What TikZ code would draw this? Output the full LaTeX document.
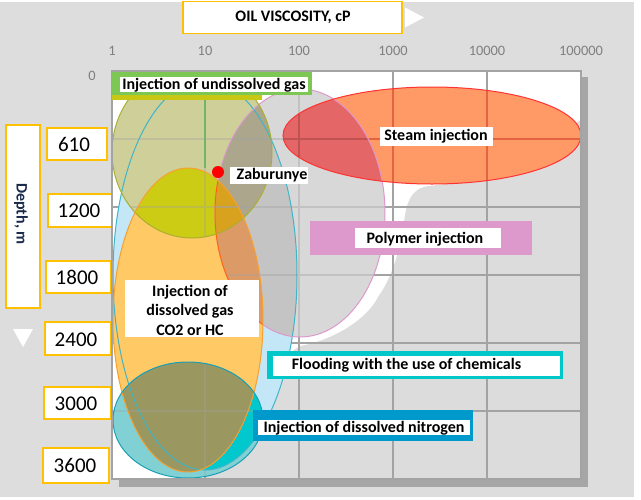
\documentclass[tikz,border=0pt]{standalone}
\usepackage{fontspec}
\setmainfont{Carlito}
\definecolor{bggrey}{HTML}{DDDDDD}
\definecolor{ggrey}{HTML}{DCDCDC}
\definecolor{shadowgrey}{HTML}{A6A6A6}
\definecolor{gridgrey}{HTML}{A3A3A3}
\definecolor{tickgrey}{HTML}{7F7F7F}
\definecolor{boxyellow}{HTML}{FFC000}
\definecolor{depthblue}{HTML}{1B2A4A}
\definecolor{cB}{HTML}{C3E7F7}
\definecolor{cP}{HTML}{D8D8D8}
\definecolor{cPB}{HTML}{C4C4C4}
\definecolor{cS}{HTML}{FF9966}
\definecolor{cSP}{HTML}{E46666}
\definecolor{cO}{HTML}{CFCF9A}
\definecolor{cOP}{HTML}{ACA68C}
\definecolor{cR}{HTML}{FFC966}
\definecolor{cRP}{HTML}{DC9A66}
\definecolor{cRO}{HTML}{CCCC14}
\definecolor{cROP}{HTML}{D9A21E}
\definecolor{cT}{HTML}{80D0D4}
\definecolor{cTB}{HTML}{00C8CC}
\definecolor{cTR}{HTML}{9A9860}
\definecolor{bBc}{HTML}{3FB5C8}
\definecolor{bPc}{HTML}{DD99CC}
\definecolor{bSc}{HTML}{FF3333}
\definecolor{bOc}{HTML}{A9B030}
\definecolor{bRc}{HTML}{F5A030}
\definecolor{bTc}{HTML}{1AA0B5}
\definecolor{greenbox}{HTML}{7DC754}
\definecolor{olivestrip}{HTML}{C8C814}
\definecolor{pinkbox}{HTML}{DD99CC}
\definecolor{cyanbox}{HTML}{00C8C8}
\definecolor{bluebox}{HTML}{0099CC}
\definecolor{gridgreen}{HTML}{3CB043}
\tikzset{
  lbl/.style={font=\fontsize{16}{19}\selectfont\bfseries, text=black, inner sep=0pt},
  num/.style={font=\fontsize{21}{24}\selectfont, text=black, inner sep=0pt},
  tick/.style={font=\fontsize{14.4}{16}\selectfont, text=tickgrey, inner sep=0pt},
  ybox/.style={draw=boxyellow, line width=1.5pt, fill=white},
  gridline/.style={draw=gridgrey, line width=1.5pt},
  shapeborder/.style={line width=1pt},
}
\def\shB{(205,275) ellipse [x radius=92pt, y radius=195pt]}
\def\shP{(300,213) ellipse [x radius=85pt, y radius=124pt]}
\def\shS{(432,135.5) ellipse [x radius=149pt, y radius=48.5pt]}
\def\shO{(192,152) ellipse [x radius=80pt, y radius=86pt]}
\def\shR{(188,320) ellipse [x radius=75pt, y radius=152pt]}
\def\shT{(188,420) ellipse [x radius=75pt, y radius=58pt]}
\def\gridpath{(205,71) -- (205,479) (299,71) -- (299,479) (393,71) -- (393,479) (487,71) -- (487,479)
  (112,139) -- (581,139) (112,207) -- (581,207) (112,275) -- (581,275) (112,343) -- (581,343) (112,411) -- (581,411)}
\begin{document}
\begin{tikzpicture}[x=1pt,y=-1pt]
\path[use as bounding box] (0,0) rectangle (641,499);
\fill[white] (0,0) rectangle (641,499);
\fill[bggrey] (0,2) rectangle (634,497);

% title
\draw[ybox] (183,1.5) rectangle (402,33.5);
\node[lbl] (title) at (293,17.5) {OIL VISCOSITY, cP};
\fill[white] (405,7.5) -- (424,17.5) -- (405,27.5) -- cycle;

% viscosity ticks
\node[tick] (t1) at (112,50.5) {1};
\node[tick] (t2) at (205,50.5) {10};
\node[tick] (t3) at (299,50.5) {100};
\node[tick] (t4) at (393,50.5) {1000};
\node[tick] (t5) at (487,50.5) {10000};
\node[tick] (t6) at (581,50.5) {100000};
\node[tick] (t0) at (92,76) {0};

% depth axis
\draw[ybox] (6,125) rectangle (40,308);
\node[lbl, text=depthblue, rotate=-90] (depth) at (21,214) {Depth, m};
\fill[white] (13,329) -- (33,329) -- (23,347) -- cycle;
\draw[ybox] (47,128) rectangle (107,160);
\draw[ybox] (48,194) rectangle (113,227);
\draw[ybox] (46,261) rectangle (111,293);
\draw[ybox] (45,322) rectangle (111,355);
\draw[ybox] (44,387) rectangle (111,419);
\draw[ybox] (43,448) rectangle (109,483);
\node[num] (d610) at (74,144.5) {610};
\node[num] (d1200) at (79,210.5) {1200};
\node[num] (d1800) at (77,277) {1800};
\node[num] (d2400) at (76,339.5) {2400};
\node[num] (d3000) at (76,403.5) {3000};
\node[num] (d3600) at (75,465) {3600};

% plot shadow and area
\fill[shadowgrey] (581,77) rectangle (588,487);
\fill[shadowgrey] (119,479) rectangle (588,487);
\fill[white] (112,71) rectangle (581,479);
\fill[ggrey] (581,120) -- (460,182) -- (430,186) .. controls (414,187) and (408,198) .. (405,215)
  .. controls (401,245) and (394,275) .. (378,297) .. controls (368,318) and (335,340) .. (300,346)
  -- (250,380) -- (210,440) -- (205,479) -- (581,479) -- cycle;
\draw[gridline] \gridpath;

\begin{scope}
\clip (112,71) rectangle (581,479);
% region fills
\fill[cB] \shB;
\fill[cP] \shP;
\begin{scope}\clip \shP; \fill[cPB] \shB; \end{scope}
\fill[cS] \shS;
\begin{scope}\clip \shS; \fill[cSP] \shP; \end{scope}
\fill[cO] \shO;
\begin{scope}\clip \shO; \fill[cOP] \shP; \end{scope}
\fill[cR] \shR;
\begin{scope}\clip \shR; \fill[cRP] \shP; \fill[cRO] \shO; \clip \shO; \fill[cROP] \shP; \end{scope}
\fill[cT] \shT;
\begin{scope}\clip \shT; \fill[cTB] \shB; \fill[cTR] \shR; \end{scope}

% grid seen through translucent regions
\begin{scope}\clip \shP; \draw[gridline, opacity=0.4] \gridpath; \end{scope}
\begin{scope}\clip \shS; \draw[gridline, draw=red!70!black, opacity=0.35] \gridpath; \end{scope}
\begin{scope}\clip \shO; \draw[gridline, opacity=0.35] \gridpath; \end{scope}
\begin{scope}\clip \shT; \draw[gridline, opacity=0.35] \gridpath; \end{scope}
\begin{scope}\clip \shO; \draw[line width=1.2pt, draw=gridgreen, opacity=0.6] (205,71) -- (205,168); \end{scope}

% borders
\draw[shapeborder, draw=bBc] \shB;
\draw[shapeborder, draw=bPc] \shP;
\begin{scope}\clip \shR; \draw[shapeborder, draw=orange!80!red] \shP; \end{scope}
\draw[shapeborder, draw=bSc] \shS;
\draw[shapeborder, draw=bOc] \shO;
\draw[shapeborder, draw=bRc] \shR;
\draw[shapeborder, draw=bTc] \shT;
\end{scope}
\draw[gridline] (112,71) rectangle (581,479);

% labels
\fill[greenbox] (112,72) rectangle (312,95);
\fill[olivestrip] (112,95) rectangle (262,99.5);
\fill[white] (120,77) rectangle (308,92);
\node[lbl] (undis) at (214,85) {Injection of undissolved gas};

\fill[white] (230,167) rectangle (308,184);
\node[lbl] (zab) at (272,175) {Zaburunye};
\fill[red] (218,172) circle[radius=6pt];

\fill[white] (380,127) rectangle (493,146);
\node[lbl] (steam) at (436,136) {Steam injection};

\fill[pinkbox] (310,221) rectangle (532,255);
\fill[white] (355,228) rectangle (501,248);
\node[lbl] (poly) at (425,239) {Polymer injection};

\fill[white] (125,280) rectangle (259,337);
\node[lbl] (co2a) at (190,292) {Injection of};
\node[lbl] (co2b) at (190,311) {dissolved gas};
\node[lbl] (co2c) at (190,330) {CO2 or HC};

\fill[cyanbox] (267,351) rectangle (563,379);
\fill[white] (273,356) rectangle (560,376);
\node[lbl] (flood) at (406.5,365) {Flooding with the use of chemicals};

\fill[bluebox] (253,410) rectangle (473,441);
\fill[white] (258,420) rectangle (470,435);
\node[lbl] (nitro) at (364,428) {Injection of dissolved nitrogen};
\end{tikzpicture}
\end{document}
